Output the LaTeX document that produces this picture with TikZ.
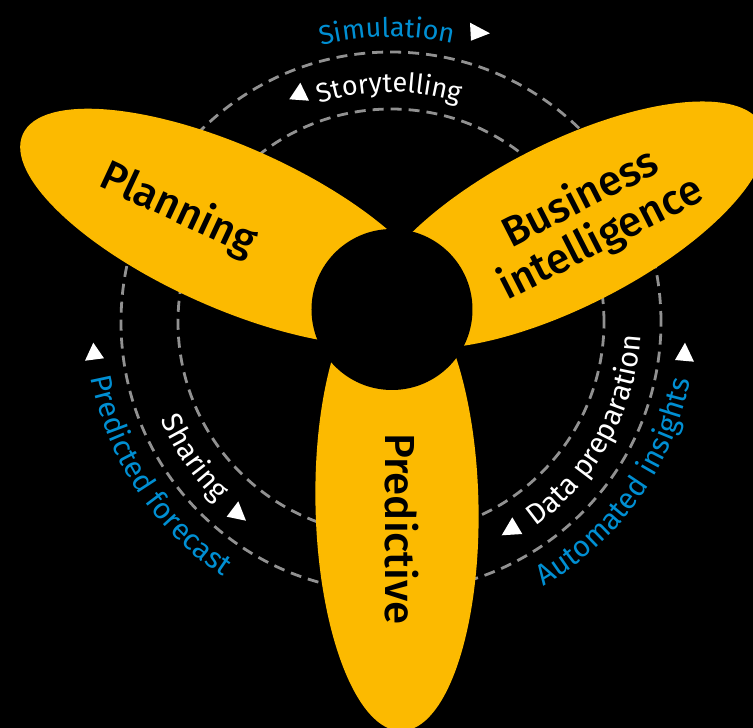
\documentclass[tikz,border=0pt]{standalone}
\usepackage{fontspec}
\usetikzlibrary{decorations.text}
\setmainfont{Fira Sans}
\IfFontExistsTF{Fira Sans Medium}{\newfontfamily\petalfont{Fira Sans Medium}}{\newcommand\petalfont{\bfseries}}
\definecolor{petal}{RGB}{252,186,0}
\definecolor{dashgray}{RGB}{145,145,145}
\definecolor{sapblue}{RGB}{0,143,211}
\newcommand\arcfont[1]{\fontsize{#1}{#1}\selectfont}
\tikzset{
  dashcirc/.style={draw=dashgray, line width=2.8pt, dash pattern=on 11pt off 7pt},
  petalshape/.style={fill=petal},
  bigtext/.style={font=\petalfont\fontsize{42}{45}\selectfont, text=black, inner sep=0pt},
  marker/.style={fill=white},
  outerlabel/.style 2 args={decorate, decoration={text along path, text align=center,
      text={|\arcfont{#1}\color{sapblue}|#2}}},
  innerlabel/.style 2 args={decorate, decoration={text along path, text align=center,
      text={|\arcfont{#1}\color{white}|#2}}}
}
\begin{document}
\begin{tikzpicture}[x=1pt,y=1pt]
\fill[black] (-391,-406) rectangle (362,322);
\useasboundingbox (-391,-406) rectangle (362,322);
% dashed circles
\draw[dashcirc] (0,0) circle[radius=213];
\draw[dashcirc] (0,0) circle[radius=270];
% petals
\fill[petalshape, rotate around={-24.1:(-161,95)}] (-161,95) ellipse[x radius=227, y radius=80.5];
\fill[petalshape, rotate around={26.9:(175,97)}] (175,97) ellipse[x radius=220, y radius=82];
\fill[petalshape, rotate around={1.2:(6,-183)}] (6,-183) ellipse[x radius=81.5, y radius=226];
\fill[black] (1,12.5) circle[radius=80.5];
% petal labels
\node[bigtext, rotate=-25] (planning) at (-213,112) {Planning};
\node[bigtext, rotate=27, align=center] (bi) at (200,103) {Business\\intelligence};
\node[bigtext, rotate=-90] (pred) at (11,-207) {Predictive};
% arc labels
\path[outerlabel={27}{Simulation}] (130.8:285) arc[start angle=130.8, end angle=50.8, radius=285];
\path[innerlabel={27}{Storytelling}] (130.4:230) arc[start angle=130.4, end angle=50.4, radius=230];
\path[outerlabel={29.5}{Predicted forecast}] (173.5:305) arc[start angle=173.5, end angle=253.5, radius=305];
\path[innerlabel={29}{Sharing}] (174.5:250) arc[start angle=174.5, end angle=254.5, radius=250];
\path[innerlabel={29}{Data preparation}] (291:250) arc[start angle=291, end angle=371, radius=250];
\path[outerlabel={29.5}{Automated insights}] (284.5:305) arc[start angle=284.5, end angle=364.5, radius=305];
% arrow markers
\fill[marker] (79,299.3) -- (99,288.7) -- (80,281.3) -- cycle;
\fill[marker] (-90.7,239.3) -- (-101.7,222.7) -- (-82,221.3) -- cycle;
\fill[marker] (-297.7,-20.7) -- (-306,-38.7) -- (-287,-36.3) -- cycle;
\fill[marker] (-164.3,-194.7) -- (-152.7,-179.3) -- (-145,-198.7) -- cycle;
\fill[marker] (121.3,-195.3) -- (110.7,-213.3) -- (131.3,-212) -- cycle;
\fill[marker] (294,-20.7) -- (284,-38) -- (303,-39.7) -- cycle;
\end{tikzpicture}
\end{document}
